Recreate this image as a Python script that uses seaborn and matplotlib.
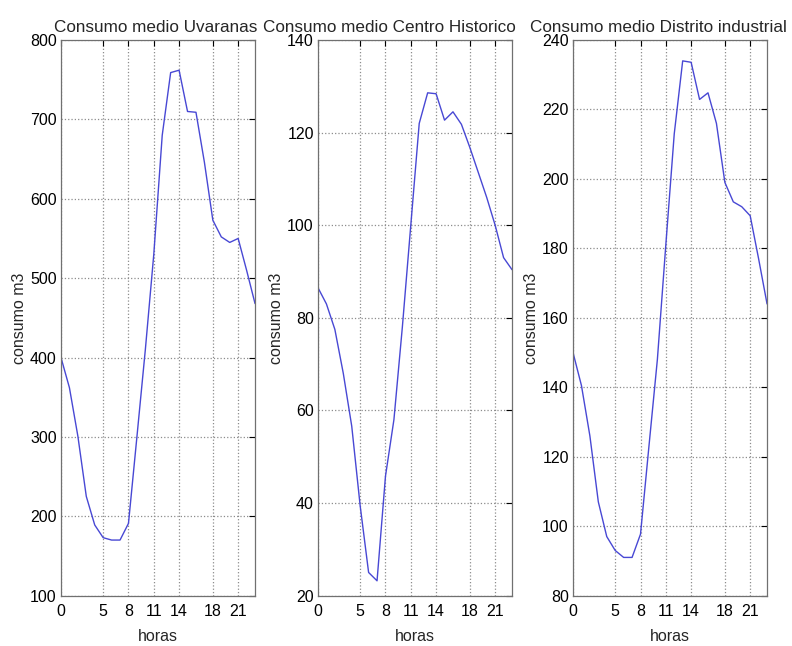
import numpy as np
import pandas as pd
import matplotlib
matplotlib.use("Agg")
import matplotlib.pyplot as plt
import seaborn as sns

# Hourly mean consumption
horas = list(range(24))
uvaranas = [400, 362, 301, 225, 189, 173, 170, 170, 191, 300, 410, 530,
            680, 759, 762, 710, 709, 646, 573, 552, 545, 550, 510, 468]
centro_historico = [86.5, 83, 77.5, 68, 56.6, 39.4, 25, 23.2, 45.8, 58, 78, 100,
                    122, 128.6, 128.4, 122.7, 124.5, 121.8, 116.8, 111.4, 106, 100, 93, 90.4]
distrito_industrial = [150, 140.5, 126, 107, 97, 93, 91, 91, 97.7, 123, 148, 181,
                       213, 234, 233.6, 222.9, 224.8, 216, 199, 193.4, 192, 189.4, 177, 164]

titulos = ["Consumo medio Uvaranas", "Consumo medio Centro Historico",
           "Consumo medio Distrito industrial"]
series = [uvaranas, centro_historico, distrito_industrial]
y_limites = [(100, 800), (20, 140), (80, 240)]
y_passos = [100, 20, 20]
x_ticks = [0, 5, 8, 11, 14, 18, 21]

sns.set_theme(style="white")
plt.rcParams['font.family'] = ['Liberation Sans', 'DejaVu Sans']

fig = plt.figure(figsize=(7.92, 6.46), dpi=100)
lefts = [0.077, 0.4015, 0.7235]
# titles in the source sit a bit left of the axes centre
title_x = [0.49, 0.37, 0.44]

for i, (titulo, vals) in enumerate(zip(titulos, series)):
    ax = fig.add_axes([lefts[i], 0.078, 0.245, 0.86])
    df = pd.DataFrame({'horas': horas, 'consumo': vals})
    sns.lineplot(data=df, x='horas', y='consumo', color='#4848d4', linewidth=1.0, ax=ax)

    lo, hi = y_limites[i]
    ax.set_xlim(0, 23)
    ax.set_ylim(lo, hi)
    ax.set_xticks(x_ticks)
    ax.set_yticks(np.arange(lo, hi + 1, y_passos[i]))
    ax.grid(True, linestyle=':', color='#8c8c8c', linewidth=0.9)

    ax.tick_params(direction='in', length=4, width=0.8, top=True, right=True,
                   labelsize=11.5, colors='black')
    ax.tick_params(axis='x', pad=6)
    ax.tick_params(axis='y', pad=3)
    for s in ax.spines.values():
        s.set_color('#707070')
        s.set_linewidth(0.9)

    ax.set_title(titulo, fontsize=12.3, pad=6, x=title_x[i])
    ax.set_xlabel('horas', fontsize=11.5, labelpad=7)
    ax.set_ylabel('consumo m3', fontsize=11.5, labelpad=2)

plt.savefig('out.png', dpi=100)
plt.close(fig)
